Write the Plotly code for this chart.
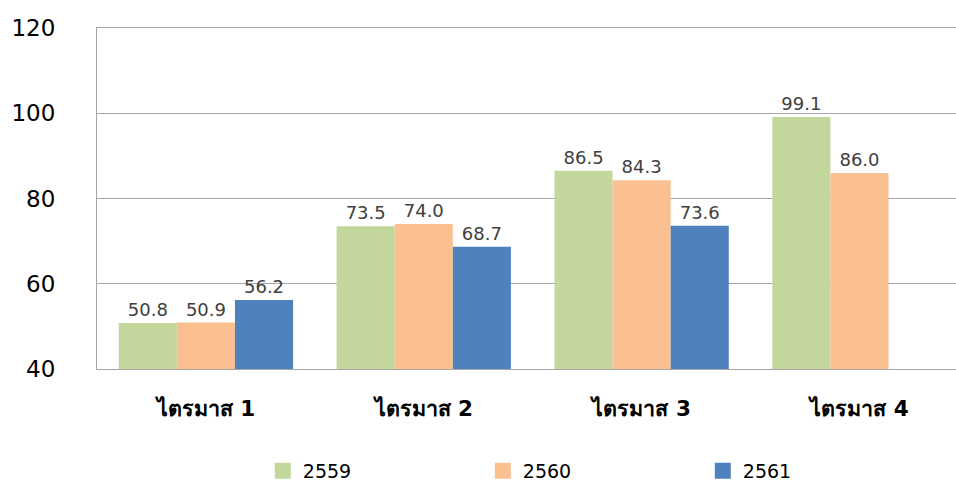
import plotly.graph_objects as go

categories = ["ไตรมาส 1", "ไตรมาส 2", "ไตรมาส 3", "ไตรมาส 4"]
series_names = ["2559", "2560", "2561"]
values_2559 = [50.8, 73.5, 86.5, 99.1]
values_2560 = [50.9, 74.0, 84.3, 86.0]
values_2561 = [56.2, 68.7, 73.6, None]
colors = ["#C3D69B", "#FAC090", "#4F81BD"]
y_ticks = [40, 60, 80, 100, 120]

FONT = "DejaVu Sans"
GRID = "#A6A6A6"
fig = go.Figure()
for name, vals, col in zip(series_names, [values_2559, values_2560, values_2561], colors):
    fig.add_trace(go.Bar(
        x=categories, y=vals, name=name, marker=dict(color=col, line=dict(width=0)),
        text=[f"{v:.1f}" if v is not None else "" for v in vals],
        textposition="outside", cliponaxis=False,
        textfont=dict(family=FONT, size=18, color="#404040"),
        showlegend=False,
    ))
    fig.add_trace(go.Scatter(
        x=[None], y=[None], mode="markers", name=name,
        marker=dict(symbol="square", size=20, color=col),
    ))

fig.update_layout(
    width=956, height=482,
    margin=dict(l=97, r=0, t=28, b=113, autoexpand=False),
    paper_bgcolor="white", plot_bgcolor="white",
    barmode="group", bargap=0.2, bargroupgap=0,
    font=dict(family=FONT, color="#000000"),
    legend=dict(orientation="h", x=0.193, xanchor="left", y=-0.299, yanchor="middle",
                font=dict(family=FONT, size=19, color="#000000"),
                entrywidth=175, entrywidthmode="pixels", itemsizing="trace"),
    xaxis=dict(range=[-0.5, 3.443], showline=True, mirror=True, linecolor=GRID, linewidth=1,
               ticks="", automargin=False,
               tickfont=dict(family=FONT, size=21.5, color="#000000", weight="bold"),
               ticklabelstandoff=20),
    yaxis=dict(range=[40, 120], tickvals=y_ticks, showgrid=True, gridcolor=GRID,
               gridwidth=1, showline=True, linecolor=GRID, linewidth=1,
               zeroline=False, ticks="", automargin=False,
               tickfont=dict(family=FONT, size=23, color="#000000"),
               ticklabelstandoff=36),
)

fig.write_html("out.html", config={"displayModeBar": False},
               post_script="document.body.style.margin='0';")
